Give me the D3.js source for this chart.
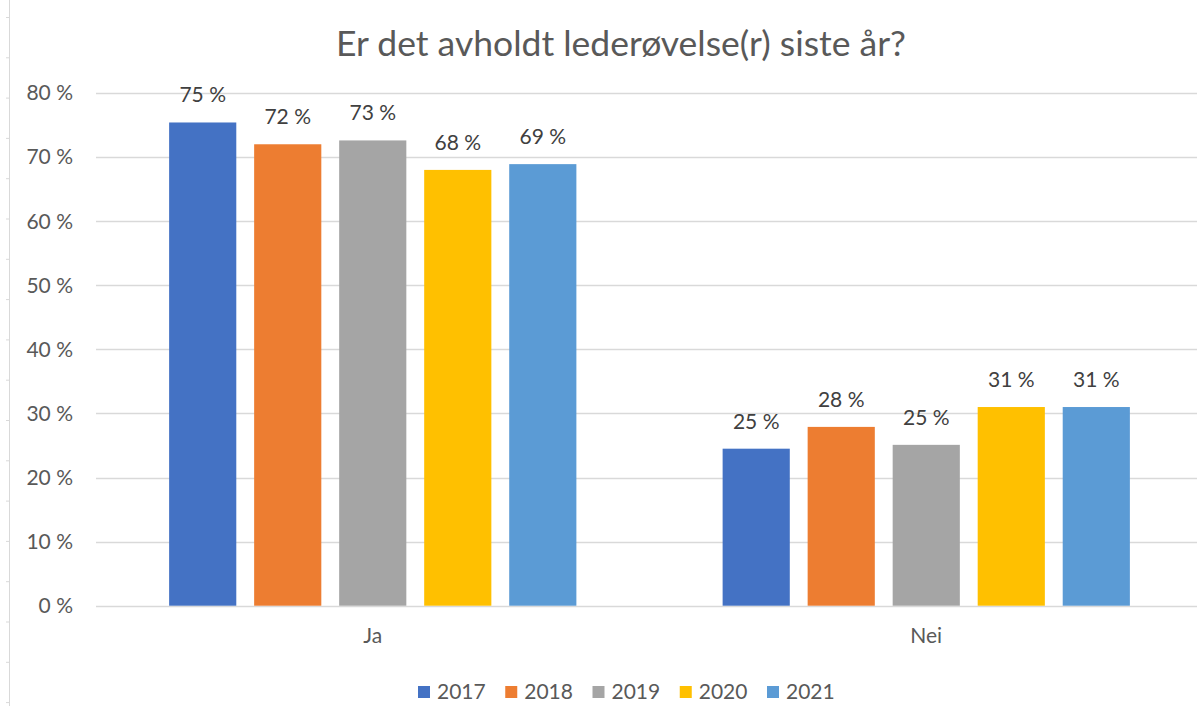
<!DOCTYPE html>
<html>
<head>
<meta charset="utf-8">
<script src="https://cdn.jsdelivr.net/npm/d3@7"></script>
<style>
  body { margin: 0; background: #fff; }
  svg text { font-family: Lato, "Liberation Sans", sans-serif; }
</style>
</head>
<body>
<svg id="svg" width="1197" height="706"></svg>
<script>
// chart data
let categories = ["Ja", "Nei"];
let years = ["2017", "2018", "2019", "2020", "2021"];
let values2017 = [75.4, 24.5];
let values2018 = [72.0, 27.9];
let values2019 = [72.6, 25.1];
let values2020 = [68.0, 31.0];
let values2021 = [68.9, 31.0];
let labels2017 = ["75 %", "25 %"];
let labels2018 = ["72 %", "28 %"];
let labels2019 = ["73 %", "25 %"];
let labels2020 = ["68 %", "31 %"];
let labels2021 = ["69 %", "31 %"];
let yTicks = [0, 10, 20, 30, 40, 50, 60, 70, 80];
let colors = ["#4472C4", "#ED7D31", "#A5A5A5", "#FFC000", "#5B9BD5"];

let seriesValues = [values2017, values2018, values2019, values2020, values2021];
let seriesLabels = [labels2017, labels2018, labels2019, labels2020, labels2021];

let svg = d3.select("#svg");
let margin = { top: 93, left: 96, right: -6, bottom: 100 };
let width = 1197 - margin.left - margin.right;
let plotHeight = 512.7;

// spreadsheet edge on the left side
svg.append("line")
  .attr("x1", 9.5).attr("x2", 9.5)
  .attr("y1", 0).attr("y2", 706)
  .attr("stroke", "#d9d9d9");
svg.selectAll(".edge-tick")
  .data(d3.range(17.5, 706, 40.3))
  .enter().append("line")
  .attr("x1", 6).attr("x2", 9.5)
  .attr("y1", d => d).attr("y2", d => d)
  .attr("stroke", "#d9d9d9");

let g = svg.append("g")
  .attr("transform", "translate(" + margin.left + "," + margin.top + ")");

let y = d3.scaleLinear()
  .domain([0, 80])
  .range([plotHeight, 0]);

let x0 = d3.scaleBand()
  .domain(categories)
  .range([0, width]);

let x1 = d3.scaleBand()
  .domain(years)
  .range([0, x0.bandwidth()])
  .paddingInner(0.21)
  .paddingOuter(0.86);

// gridlines
g.selectAll(".grid")
  .data(yTicks)
  .enter().append("line")
  .attr("x1", 0).attr("x2", width)
  .attr("y1", d => Math.round(y(d)) + 0.5)
  .attr("y2", d => Math.round(y(d)) + 0.5)
  .attr("stroke", "#d9d9d9")
  .attr("stroke-width", 1.3);

// y axis labels
g.selectAll(".ytick")
  .data(yTicks)
  .enter().append("text")
  .attr("x", -23)
  .attr("y", d => y(d))
  .attr("dy", "0.35em")
  .attr("text-anchor", "end")
  .attr("fill", "#595959")
  .style("font-size", "21px")
  .text(d => d + " %");

// bars
years.forEach((year, s) => {
  let group = g.append("g");
  group.selectAll("rect")
    .data(seriesValues[s])
    .enter().append("rect")
    .attr("x", (d, i) => x0(categories[i]) + x1(year))
    .attr("y", d => y(d))
    .attr("width", x1.bandwidth())
    .attr("height", d => y(0) - y(d))
    .attr("fill", colors[s]);

  group.selectAll("text")
    .data(seriesValues[s])
    .enter().append("text")
    .attr("x", (d, i) => x0(categories[i]) + x1(year) + x1.bandwidth() / 2)
    .attr("y", d => y(d) - 20)
    .attr("text-anchor", "middle")
    .attr("fill", "#404040")
    .style("font-size", "21px")
    .text((d, i) => seriesLabels[s][i]);
});

// category labels
g.selectAll(".cat")
  .data(categories)
  .enter().append("text")
  .attr("x", d => x0(d) + x0.bandwidth() / 2)
  .attr("y", y(0) + 37)
  .attr("text-anchor", "middle")
  .attr("fill", "#595959")
  .style("font-size", "21px")
  .text(d => d);

// title
svg.append("text")
  .attr("x", 621)
  .attr("y", 56)
  .attr("text-anchor", "middle")
  .attr("fill", "#595959")
  .style("font-size", "35.5px")
  .text("Er det avholdt lederøvelse(r) siste år?");

// legend
let legend = svg.append("g")
  .attr("transform", "translate(418,692)");
let legendX = d3.scalePoint()
  .domain(years)
  .range([0, 349]);
let items = legend.selectAll(".item")
  .data(years)
  .enter().append("g")
  .attr("transform", d => "translate(" + legendX(d) + ",0)");
items.append("rect")
  .attr("x", 0).attr("y", -6)
  .attr("width", 12).attr("height", 12)
  .attr("fill", (d, i) => colors[i]);
items.append("text")
  .attr("x", 19)
  .attr("y", 0)
  .attr("dy", "0.35em")
  .attr("fill", "#595959")
  .style("font-size", "21px")
  .text(d => d);
</script>
</body>
</html>
